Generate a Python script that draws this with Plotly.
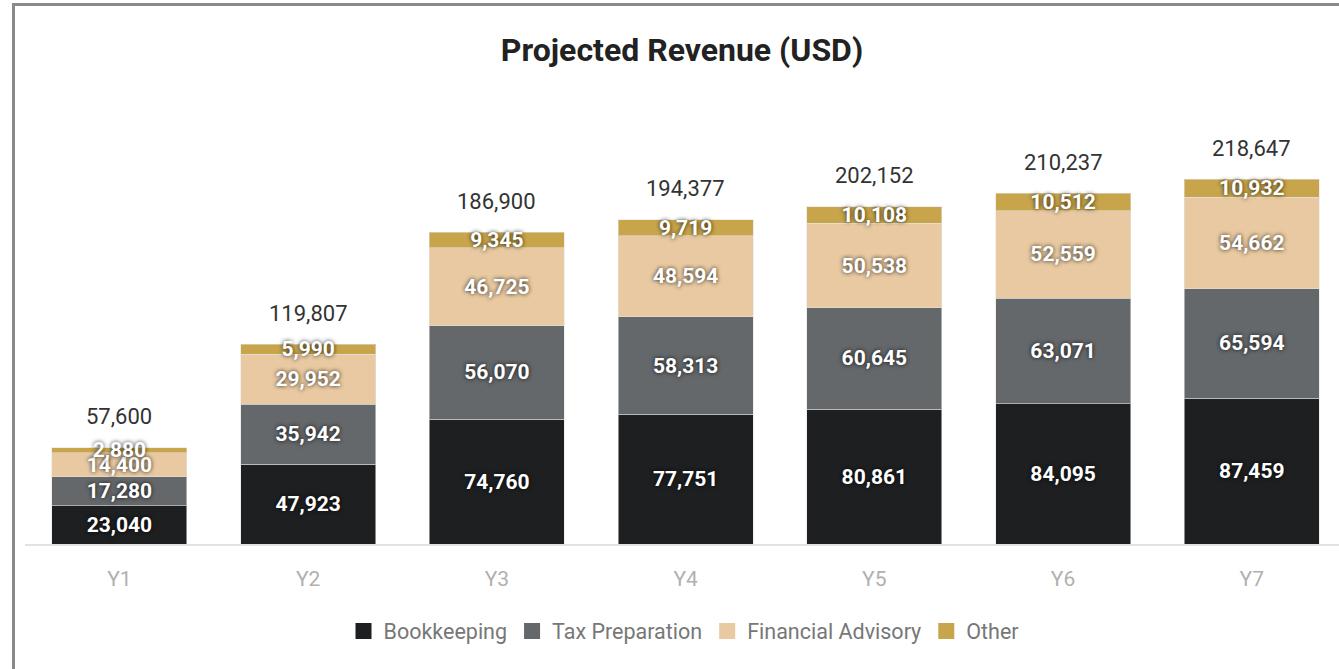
import plotly.graph_objects as go

years = ["Y1", "Y2", "Y3", "Y4", "Y5", "Y6", "Y7"]
bookkeeping = [23040, 47923, 74760, 77751, 80861, 84095, 87459]
tax_prep = [17280, 35942, 56070, 58313, 60645, 63071, 65594]
advisory = [14400, 29952, 46725, 48594, 50538, 52559, 54662]
other = [2880, 5990, 9345, 9719, 10108, 10512, 10932]
totals = [57600, 119807, 186900, 194377, 202152, 210237, 218647]

series = [
    ("Bookkeeping", bookkeeping, "#1e1f21"),
    ("Tax Preparation", tax_prep, "#65686b"),
    ("Financial Advisory", advisory, "#e8c9a1"),
    ("Other", other, "#c8a54a"),
]

FONT = "Roboto, Liberation Sans, Arial, sans-serif"

fig = go.Figure()
for name, vals, color in series:
    fig.add_trace(go.Bar(
        x=years, y=vals, name=name, showlegend=False,
        marker=dict(color=color, line=dict(color="rgba(225,225,225,0.55)", width=1)),
        text=[f"{v:,}" for v in vals],
        textposition="inside", insidetextanchor="middle", textangle=0,
        constraintext="none",
        textfont=dict(family=FONT, size=21, color="white", weight="bold",
                      shadow="0px 0px 4px rgba(0,0,0,0.85)"),
        width=0.715,
    ))

# legend entries with larger square swatches
for name, vals, color in series:
    fig.add_trace(go.Scatter(
        x=[None], y=[None], mode="markers", name=name,
        marker=dict(symbol="square", size=18, color=color),
        showlegend=True, hoverinfo="skip",
    ))

for yr, t in zip(years, totals):
    fig.add_annotation(x=yr, y=t, text=f"{t:,}", showarrow=False,
                       yshift=31, yanchor="middle", xanchor="center",
                       font=dict(family=FONT, size=22, color="#333333"))

ML, MR, MT, MB = 25, 0, 100, 125
W, H = 1339, 669
pw = W - ML - MR
ph = H - MT - MB

def px_x(p):
    return (p - ML) / pw

def px_y(p):
    return (H - MB - p) / ph

border = dict(color="#8a8a8a", width=3)
fig.add_shape(type="line", xref="paper", yref="paper",
              x0=px_x(12), x1=px_x(1345), y0=px_y(4.5), y1=px_y(4.5), line=border)
fig.add_shape(type="line", xref="paper", yref="paper",
              x0=px_x(13.5), x1=px_x(13.5), y0=px_y(3), y1=px_y(680), line=border)

fig.update_layout(
    barmode="stack",
    width=W, height=H,
    margin=dict(l=ML, r=MR, t=MT, b=MB),
    paper_bgcolor="white", plot_bgcolor="white",
    title=dict(text="<b>Projected Revenue (USD)</b>", x=0.5, xref="paper",
               xanchor="center", y=1 - 50 / H, yanchor="middle",
               font=dict(family=FONT, size=32, color="#222222")),
    showlegend=True,
    legend=dict(orientation="h", x=px_x(684), xanchor="center", xref="paper",
                y=px_y(631), yanchor="middle", traceorder="normal",
                font=dict(family=FONT, size=21.5, color="#777777"),
                itemclick=False, itemdoubleclick=False),
    xaxis=dict(range=[-0.5, 6.462], showline=True, linecolor="#e2e2e2", linewidth=1.5,
               showgrid=False, ticks="outside", ticklen=15, tickcolor="rgba(0,0,0,0)",
               tickfont=dict(family=FONT, size=21, color="#b0b0b0")),
    yaxis=dict(range=[0, 266000], visible=False, showgrid=False),
)

fig.write_html("out.html", config={"displayModeBar": False},
               post_script="document.body.style.margin='0px';")
